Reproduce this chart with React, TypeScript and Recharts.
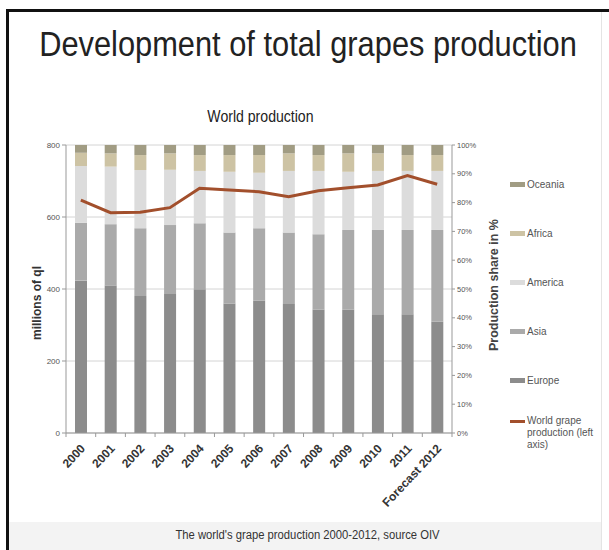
import * as React from "react"
import {
  ComposedChart,
  Bar,
  Line,
  XAxis,
  YAxis,
  CartesianGrid,
  Legend,
} from "recharts"

const years = [
  "2000",
  "2001",
  "2002",
  "2003",
  "2004",
  "2005",
  "2006",
  "2007",
  "2008",
  "2009",
  "2010",
  "2011",
  "Forecast 2012",
]

// production share in % per region (stacked bottom to top)
const europe = [52.9, 51.1, 47.6, 48.3, 49.9, 45.0, 45.9, 44.8, 42.9, 42.9, 41.2, 41.2, 38.6]
const asia = [20.1, 21.4, 23.5, 23.9, 22.9, 24.6, 25.2, 24.8, 26.1, 27.6, 29.3, 29.3, 31.9]
const america = [19.7, 20.0, 20.2, 19.2, 18.2, 21.1, 19.3, 21.4, 22.0, 20.2, 20.5, 20.5, 20.5]
const africa = [4.6, 4.6, 5.2, 5.7, 5.5, 5.8, 6.1, 6.1, 5.5, 6.4, 6.1, 5.5, 5.5]
const oceania = [2.7, 2.9, 3.5, 2.9, 3.5, 3.5, 3.5, 2.9, 3.5, 2.9, 2.9, 3.5, 3.5]

// world grape production, millions of ql (left axis)
const worldProduction = [647, 612, 613, 626, 680, 675, 670, 656, 673, 681, 689, 715, 691]

const leftTicks = [0, 200, 400, 600, 800]
const rightTicks = [0, 10, 20, 30, 40, 50, 60, 70, 80, 90, 100]

const series = [
  { key: "europe", name: "Europe", color: "#8c8c8c" },
  { key: "asia", name: "Asia", color: "#aaaaaa" },
  { key: "america", name: "America", color: "#dcdcdc" },
  { key: "africa", name: "Africa", color: "#cdc3a4" },
  { key: "oceania", name: "Oceania", color: "#a19c83" },
]

const LINE_COLOR = "#a24f2c"
const FONT = "'Liberation Sans', Arial, sans-serif"

const data = years.map((year, i) => ({
  year,
  europe: europe[i],
  asia: asia[i],
  america: america[i],
  africa: africa[i],
  oceania: oceania[i],
  world: worldProduction[i],
}))

const PLOT_LEFT = 66
const PLOT_RIGHT = 452
const STEP = (PLOT_RIGHT - PLOT_LEFT) / years.length

function YearTick(props: any) {
  const { x, y, payload, index } = props
  const last = index === years.length - 1
  return (
    <g>
      <line x1={x - STEP / 2} x2={x - STEP / 2} y1={y} y2={y + 4} stroke="#999" />
      {last && <line x1={x + STEP / 2} x2={x + STEP / 2} y1={y} y2={y + 4} stroke="#999" />}
      <text
        transform={`translate(${x + 5},${y + 16}) rotate(-47)`}
        textAnchor="end"
        fontSize={12}
        fontWeight="bold"
        fill="#333"
        fontFamily={FONT}
      >
        {payload.value}
      </text>
    </g>
  )
}

function LegendBox() {
  const items = [...series].reverse()
  return (
    <div style={{ fontFamily: FONT, fontSize: 10, color: "#555" }}>
      {items.map((s) => (
        <div key={s.key} style={{ display: "flex", alignItems: "center", height: 49 }}>
          <span style={{ width: 15, height: 5, background: s.color, marginRight: 2 }} />
          <span>{s.name}</span>
        </div>
      ))}
      <div style={{ display: "flex", alignItems: "flex-start", marginTop: 10 }}>
        <span style={{ width: 15, height: 3, background: LINE_COLOR, marginRight: 2, marginTop: 5 }} />
        <span style={{ lineHeight: "12px", width: 74 }}>World grape production (left axis)</span>
      </div>
    </div>
  )
}

export default function App() {
  return (
    <div
      style={{
        position: "absolute",
        left: 0,
        top: 0,
        width: 609,
        height: 550,
        background: "#fff",
        overflow: "hidden",
      }}
    >
      <div style={{ position: "absolute", left: 6, top: 9, width: 603, height: 3, background: "#111" }} />
      <div style={{ position: "absolute", left: 6, top: 9, width: 3, height: 541, background: "#111" }} />
      <div style={{ position: "absolute", left: 601, top: 12, width: 1, height: 538, background: "#e4e4e4" }} />
      <div style={{ position: "absolute", left: 9, top: 522, width: 592, height: 28, background: "#f3f3f3" }} />

      <div
        style={{
          position: "absolute",
          left: 0,
          top: 24,
          width: 616,
          textAlign: "center",
          fontFamily: FONT,
          fontSize: 35,
          color: "#222",
          transform: "scaleX(0.88)",
          whiteSpace: "nowrap",
        }}
      >
        Development of total grapes production
      </div>
      <div
        style={{
          position: "absolute",
          left: 0,
          top: 108,
          width: 521,
          textAlign: "center",
          fontFamily: FONT,
          fontSize: 16,
          color: "#222",
          transform: "scaleX(0.88)",
          transformOrigin: "260px 0",
          whiteSpace: "nowrap",
        }}
      >
        World production
      </div>
      <div
        style={{
          position: "absolute",
          left: 0,
          top: 528,
          width: 615,
          textAlign: "center",
          fontFamily: FONT,
          fontSize: 12.5,
          color: "#333",
          transform: "scaleX(0.9)",
          whiteSpace: "nowrap",
        }}
      >
        The world's grape production 2000-2012, source OIV
      </div>

      <div style={{ position: "absolute", left: 0, top: 0 }}>
        <ComposedChart
          width={609}
          height={550}
          data={data}
          margin={{ top: 145, left: 30, right: 107, bottom: 17 }}
          barSize={12}
          style={{ fontFamily: FONT }}
        >
          <CartesianGrid yAxisId="left" vertical={false} stroke="#d4d4d4" />
          <XAxis
            dataKey="year"
            interval={0}
            height={100}
            tickSize={0}
            tickMargin={0}
            tickLine={false}
            tick={<YearTick />}
            stroke="#999"
          />
          <YAxis
            yAxisId="left"
            width={36}
            domain={[0, 800]}
            ticks={leftTicks}
            tickSize={4}
            tick={{ fontSize: 8, fill: "#555" }}
            stroke="#999"
            label={{
              value: "millions of ql",
              angle: -90,
              position: "insideLeft",
              offset: 7,
              dy: 14,
              style: { textAnchor: "middle", fontSize: 12, fontWeight: "bold", fill: "#333" },
            }}
          />
          <YAxis
            yAxisId="right"
            orientation="right"
            width={50}
            domain={[0, 100]}
            ticks={rightTicks}
            tickSize={3}
            tickFormatter={(v) => `${v}%`}
            tick={{ fontSize: 7.5, fill: "#555" }}
            stroke="#999"
            label={{
              value: "Production share in %",
              angle: -90,
              position: "insideRight",
              offset: 8,
              dy: -4,
              style: { textAnchor: "middle", fontSize: 12.5, fontWeight: "bold", fill: "#444" },
            }}
          />
          {series.map((s) => (
            <Bar
              key={s.key}
              yAxisId="right"
              dataKey={s.key}
              name={s.name}
              stackId="share"
              fill={s.color}
              isAnimationActive={false}
            />
          ))}
          <Line
            yAxisId="left"
            dataKey="world"
            name="World grape production (left axis)"
            stroke={LINE_COLOR}
            strokeWidth={3}
            dot={false}
            type="linear"
            isAnimationActive={false}
          />
          <Legend
            layout="vertical"
            align="center"
            verticalAlign="middle"
            content={<LegendBox />}
            wrapperStyle={{ position: "absolute", left: 510, top: 160, width: 100 }}
          />
        </ComposedChart>
      </div>
    </div>
  )
}
